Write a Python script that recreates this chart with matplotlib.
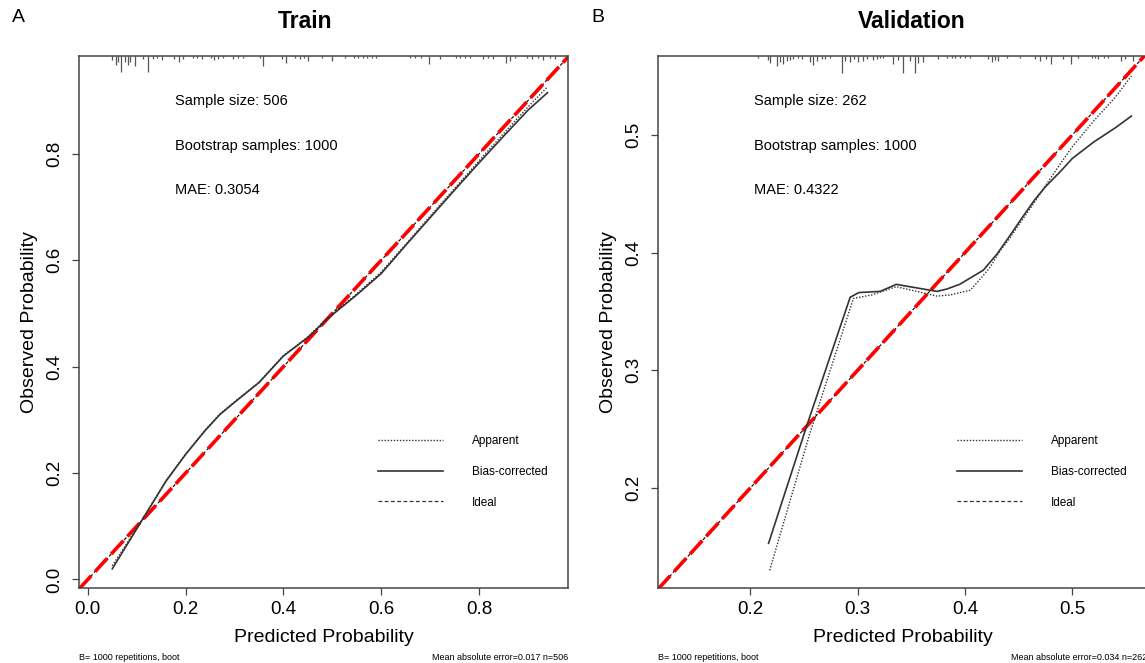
"""Calibration curves for the train and validation sets."""

import matplotlib
matplotlib.use('Agg')
import matplotlib.pyplot as plt
from matplotlib.lines import Line2D

plt.rcParams['font.family'] = ['Liberation Sans', 'DejaVu Sans']

# ---- data ----
train_x = [0.05, 0.08, 0.12, 0.16, 0.20, 0.24, 0.27, 0.30, 0.35, 0.40, 0.45,
           0.49, 0.55, 0.60, 0.65, 0.70, 0.75, 0.80, 0.85, 0.90, 0.94]
train_bias = [0.020, 0.065, 0.125, 0.185, 0.235, 0.280, 0.310, 0.333, 0.370,
              0.420, 0.455, 0.490, 0.535, 0.575, 0.628, 0.680, 0.732, 0.783,
              0.833, 0.882, 0.915]
train_app = [0.026, 0.068, 0.126, 0.186, 0.236, 0.281, 0.311, 0.334, 0.371,
             0.421, 0.456, 0.491, 0.537, 0.578, 0.630, 0.683, 0.735, 0.787,
             0.838, 0.888, 0.926]

valid_bias_x = [0.217, 0.2526, 0.293, 0.301, 0.321, 0.336, 0.342, 0.374, 0.383,
                0.395, 0.417, 0.430, 0.440, 0.455, 0.465, 0.475, 0.490, 0.500,
                0.520, 0.540, 0.555]
valid_bias = [0.153, 0.253, 0.362, 0.366, 0.367, 0.373, 0.372, 0.367, 0.369,
              0.373, 0.385, 0.399, 0.412, 0.432, 0.445, 0.456, 0.470, 0.480,
              0.494, 0.506, 0.516]
valid_app_x = [0.218, 0.255, 0.296, 0.313, 0.336, 0.374, 0.386, 0.405, 0.423,
               0.433, 0.440, 0.455, 0.465, 0.475, 0.490, 0.500, 0.520, 0.540,
               0.555]
valid_app = [0.130, 0.245, 0.361, 0.364, 0.371, 0.363, 0.364, 0.368, 0.387,
             0.402, 0.410, 0.430, 0.443, 0.457, 0.477, 0.490, 0.512, 0.532,
             0.550]

# rug of predicted probabilities (position, tick length in px)
train_rug_x = [0.0495, 0.057, 0.062, 0.068, 0.076, 0.082, 0.086, 0.097, 0.113,
               0.123, 0.133, 0.142, 0.152, 0.176, 0.186, 0.195, 0.215, 0.223,
               0.234, 0.252, 0.258, 0.266, 0.276, 0.297, 0.307, 0.317, 0.352,
               0.358, 0.397, 0.405, 0.424, 0.434, 0.442, 0.450, 0.479, 0.499,
               0.526, 0.544, 0.553, 0.563, 0.571, 0.581, 0.589, 0.659, 0.669,
               0.681, 0.698, 0.720, 0.753, 0.761, 0.771, 0.782, 0.808, 0.818,
               0.829, 0.855, 0.863, 0.874, 0.898, 0.908, 0.921, 0.931, 0.945,
               0.955]
train_rug_h = [4, 9, 6, 16, 6, 9, 6, 10, 3, 16, 3, 2, 4, 3, 6, 3, 2, 2, 3, 2,
               4, 3, 2, 3, 2, 2, 2, 10, 3, 7, 2, 3, 2, 5, 2, 5, 2, 2, 2, 2, 2,
               2, 2, 2, 2, 2, 8, 3, 2, 2, 2, 2, 3, 2, 3, 7, 5, 2, 2, 3, 2, 4,
               2, 3]
valid_rug_x = [0.207, 0.216, 0.218, 0.225, 0.228, 0.230, 0.234, 0.237, 0.240,
               0.244, 0.248, 0.256, 0.258, 0.262, 0.267, 0.270, 0.274, 0.285,
               0.288, 0.293, 0.297, 0.300, 0.305, 0.309, 0.314, 0.318, 0.321,
               0.324, 0.333, 0.338, 0.342, 0.349, 0.353, 0.356, 0.361, 0.375,
               0.383, 0.388, 0.391, 0.395, 0.400, 0.405, 0.421, 0.425, 0.428,
               0.431, 0.439, 0.451, 0.465, 0.470, 0.475, 0.480, 0.491, 0.499,
               0.505, 0.518, 0.521, 0.524, 0.529, 0.533, 0.545, 0.549, 0.556]
valid_rug_h = [2, 4, 7, 10, 6, 8, 5, 4, 3, 2, 3, 6, 9, 5, 3, 3, 2, 17, 5, 6,
               3, 6, 5, 3, 4, 3, 2, 2, 8, 4, 17, 5, 17, 7, 6, 3, 2, 2, 2, 2, 2,
               2, 3, 6, 4, 5, 2, 2, 3, 5, 3, 8, 3, 8, 2, 2, 2, 3, 2, 2, 5, 3, 5]

AXIS_COLOR = '#444444'
LINE_COLOR = '#333333'
AX_H_PX = 532


def draw_panel(ax, lim_x, lim_y, ticks, fmt, rug_x, rug_h,
               x_app, y_app, x_bias, y_bias, n, mae, mae_boot):
    ax.set_xlim(*lim_x)
    ax.set_ylim(*lim_y)
    # ideal line: black dashed with the red dash-dot overlay
    lo = min(lim_x[0], lim_y[0])
    hi = max(lim_x[1], lim_y[1])
    ax.plot([lo, hi], [lo, hi], color='black', lw=0.8, ls=(0, (3, 2)))
    ax.plot([lo, hi], [lo, hi], color='red', lw=2.6, ls=(0, (5, 1.6)))
    ax.plot(x_app, y_app, color=LINE_COLOR, lw=1.0, ls=(0, (1, 1.2)))
    ax.plot(x_bias, y_bias, color=LINE_COLOR, lw=1.2)

    ax.vlines(rug_x, [1 - h / AX_H_PX for h in rug_h], 1,
              transform=ax.get_xaxis_transform(), color='#555555', lw=0.9)

    ax.set_xticks(ticks)
    ax.set_yticks(ticks)
    ax.set_xticklabels([fmt.format(t) for t in ticks])
    ax.set_yticklabels([fmt.format(t) for t in ticks], rotation=90,
                       va='center')
    ax.tick_params(direction='out', length=5, width=0.9, color=AXIS_COLOR,
                   labelsize=13.5, pad=4)
    ax.tick_params(axis='y', pad=6)
    for s in ax.spines.values():
        s.set_color(AXIS_COLOR)
        s.set_linewidth(1.1)
    ax.set_xlabel('Predicted Probability', fontsize=14, labelpad=8)
    ax.set_ylabel('Observed Probability', fontsize=14, labelpad=6)

    ax.text(0.197, 0.915, f'Sample size: {n}', transform=ax.transAxes,
            fontsize=10.5, va='center')
    ax.text(0.197, 0.831, 'Bootstrap samples: 1000', transform=ax.transAxes,
            fontsize=10.5, va='center')
    ax.text(0.197, 0.748, f'MAE: {mae}', transform=ax.transAxes,
            fontsize=10.5, va='center')

    handles = [
        Line2D([], [], color=LINE_COLOR, lw=1.0, ls=(0, (1, 1.2))),
        Line2D([], [], color=LINE_COLOR, lw=1.2),
        Line2D([], [], color=LINE_COLOR, lw=0.9, ls=(0, (3, 2))),
    ]
    ax.legend(handles, ['Apparent', 'Bias-corrected', 'Ideal'],
              loc='upper left', bbox_to_anchor=(0.611, 0.288), frameon=False,
              fontsize=8.5, borderpad=0, borderaxespad=0, handlelength=5.5,
              handletextpad=2.5, labelspacing=1.6)

    ax.text(0.0, -0.13, 'B= 1000 repetitions, boot', transform=ax.transAxes,
            fontsize=6.5, va='center', ha='left')
    ax.text(1.0, -0.13, f'Mean absolute error={mae_boot} n={n}',
            transform=ax.transAxes, fontsize=6.5, va='center', ha='right')


fig = plt.figure(figsize=(11.45, 6.63), dpi=100)
W, H = 1145, 663
ax1 = fig.add_axes([79 / W, 75 / H, 489 / W, AX_H_PX / H])
ax2 = fig.add_axes([658 / W, 75 / H, 489 / W, AX_H_PX / H])

draw_panel(ax1, (-0.018, 0.982), (-0.016, 0.984), [0.0, 0.2, 0.4, 0.6, 0.8],
           '{:.1f}', train_rug_x, train_rug_h, train_x, train_app,
           train_x, train_bias, 506, '0.3054', '0.017')
draw_panel(ax2, (0.114, 0.5695), (0.115, 0.567), [0.2, 0.3, 0.4, 0.5],
           '{:.1f}', valid_rug_x, valid_rug_h, valid_app_x, valid_app,
           valid_bias_x, valid_bias, 262, '0.4322', '0.034')

fig.text(305 / W, 1 - 22 / H, 'Train', fontsize=16.5, fontweight='bold',
         ha='center', va='center')
fig.text(912 / W, 1 - 22 / H, 'Validation', fontsize=16.5, fontweight='bold',
         ha='center', va='center')
fig.text(18 / W, 1 - 18 / H, 'A', fontsize=14, ha='center', va='center')
fig.text(598 / W, 1 - 18 / H, 'B', fontsize=14, ha='center', va='center')

fig.savefig('out.png', dpi=100, facecolor='white')
